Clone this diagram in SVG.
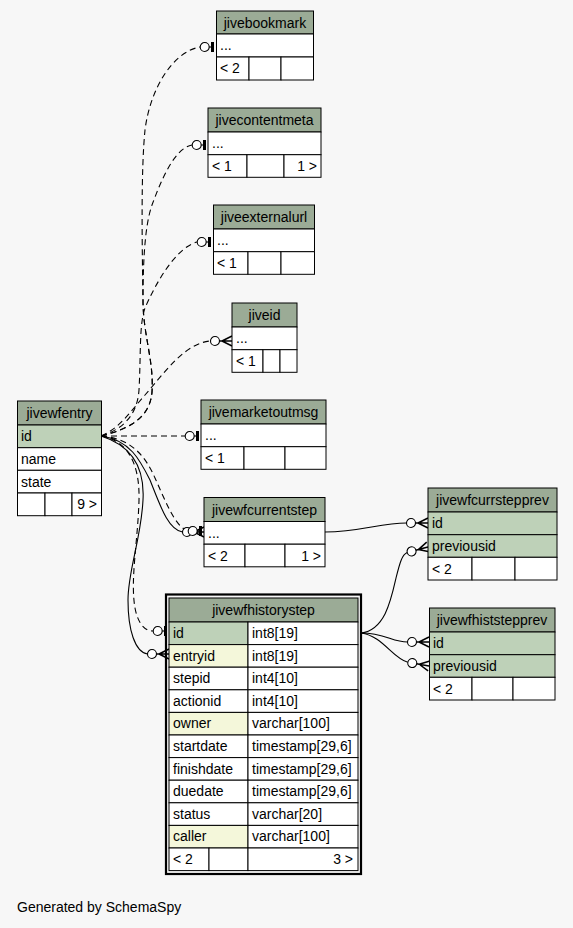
<svg xmlns="http://www.w3.org/2000/svg" xmlns:xlink="http://www.w3.org/1999/xlink" width="573" height="928" viewBox="0 0 573 928">
<defs>
<style>
.t{font-family:"Liberation Sans",Arial,Helvetica,sans-serif;font-size:14px;fill:#000}
.c{text-anchor:middle}
.r{text-anchor:end}
.h{fill:#9bab96;stroke:#000;stroke-width:1}
.w{fill:#fff;stroke:#000;stroke-width:1}
.k{fill:#bed1b8;stroke:#000;stroke-width:1}
.f{fill:#f4f7da;stroke:#000;stroke-width:1}
.e{fill:none;stroke:#000;stroke-width:1.1}
.d{fill:none;stroke:#000;stroke-width:1.1;stroke-dasharray:6,4}
</style>
<g id="teeodot">
<circle cx="-11.3" cy="0" r="4.5" fill="#fff" stroke="#000" stroke-width="1.1"/>
<line x1="-6.8" y1="0" x2="-4" y2="0" stroke="#000" stroke-width="1.1"/>
<rect x="-5" y="-5" width="3" height="10" fill="#000"/>
</g>
<g id="crowodot">
<circle cx="-17" cy="0" r="4.5" fill="#fff" stroke="#000" stroke-width="1.1"/>
<path d="M-12.5,0 L-10,0 M-10,0 L0,-5 M-10,0 L0,0 M-10,0 L0,5" fill="none" stroke="#000" stroke-width="1.5"/>
</g>
</defs>
<rect x="0" y="0" width="573" height="928" fill="#f7f7f7"/>

<g id="connectors">
<path class="d" d="M101,436 C125,430 150,420 152,392 C154,360 143,335 143,300 C142,240 141,170 145,130 C150,90 172,52 200,47"/>
<path class="d" d="M101,436 C125,430 150,420 152,392 C154,360 143,335 143,300 C143,260 145,225 152,205 C162,178 175,148 192,145"/>
<path class="d" d="M101,436 C120,430 137,418 139,390 C141,355 139,325 145,308 C155,285 175,248 197,242"/>
<path class="d" d="M101,436 C120,428 130,412 145,395 C165,372 185,343 210.5,341"/>
<path class="d" d="M101,436 L185,436"/>
<path class="e" d="M101,436 C130,440 140,460 150,480 C160,505 168,530 182.5,532"/>
<path class="d" d="M101,436 C130,438 145,455 155,478 C165,500 175,527 188,531"/>
<path class="d" d="M101,436 C125,440 140,460 139,500 C138,540 130,580 135,608 C138,624 145,631 153,631"/>
<path class="e" d="M101,436 C130,445 145,465 143,500 C141,540 128,570 128,600 C128,630 135,652 147.5,654"/>
<path class="e" d="M325,532 C360,532 380,523 406.5,523"/>
<path class="e" d="M361,633 C385,630 391,600 396,578 C400,562 402,555 407.2,552.6"/>
<path class="e" d="M361,633 C385,633 392,642 407.5,642"/>
<path class="e" d="M361,633 C383,636 392,658 407.8,662.3"/>
<use xlink:href="#teeodot" transform="translate(216,47)"/>
<use xlink:href="#teeodot" transform="translate(208,145)"/>
<use xlink:href="#teeodot" transform="translate(213,242)"/>
<use xlink:href="#crowodot" transform="translate(232,341)"/>
<use xlink:href="#teeodot" transform="translate(201,436)"/>
<use xlink:href="#crowodot" transform="translate(204,532)"/>
<use xlink:href="#teeodot" transform="translate(204,531)"/>
<use xlink:href="#teeodot" transform="translate(169,631)"/>
<use xlink:href="#crowodot" transform="translate(169,654)"/>
<use xlink:href="#crowodot" transform="translate(428,523)"/>
<use xlink:href="#crowodot" transform="translate(428,547) rotate(-15)"/>
<use xlink:href="#crowodot" transform="translate(429,642)"/>
<use xlink:href="#crowodot" transform="translate(429,666) rotate(10)"/>
</g>

<g id="jivebookmark">
<rect class="h" x="216.5" y="11" width="97" height="23"/>
<rect class="w" x="216.5" y="34" width="97" height="23"/>
<rect class="w" x="216.5" y="57" width="32.5" height="23"/>
<rect class="w" x="249" y="57" width="32" height="23"/>
<rect class="w" x="281" y="57" width="32.5" height="23"/>
<text class="t c" x="265" y="28">jivebookmark</text>
<text class="t" x="220" y="50">...</text>
<text class="t" x="220" y="73">&lt; 2</text>
</g>

<g id="jivecontentmeta">
<rect class="h" x="208" y="108" width="113" height="24"/>
<rect class="w" x="208" y="132" width="113" height="22.7"/>
<rect class="w" x="208" y="154.7" width="39" height="22.6"/>
<rect class="w" x="247" y="154.7" width="37" height="22.6"/>
<rect class="w" x="284" y="154.7" width="37" height="22.6"/>
<text class="t c" x="264.5" y="125">jivecontentmeta</text>
<text class="t" x="212" y="148">...</text>
<text class="t" x="212" y="171">&lt; 1</text>
<text class="t r" x="317" y="171">1 &gt;</text>
</g>

<g id="jiveexternalurl">
<rect class="h" x="213.5" y="205" width="101" height="24"/>
<rect class="w" x="213.5" y="229" width="101" height="22.7"/>
<rect class="w" x="213.5" y="251.7" width="34.5" height="22.6"/>
<rect class="w" x="248" y="251.7" width="33" height="22.6"/>
<rect class="w" x="281" y="251.7" width="33.5" height="22.6"/>
<text class="t c" x="264" y="222">jiveexternalurl</text>
<text class="t" x="217" y="245">...</text>
<text class="t" x="217" y="268">&lt; 1</text>
</g>

<g id="jiveid">
<rect class="h" x="232" y="303" width="65" height="24"/>
<rect class="w" x="232" y="327" width="65" height="22.7"/>
<rect class="w" x="232" y="349.7" width="31" height="22.6"/>
<rect class="w" x="263" y="349.7" width="17" height="22.6"/>
<rect class="w" x="280" y="349.7" width="17" height="22.6"/>
<text class="t c" x="264.5" y="320">jiveid</text>
<text class="t" x="236" y="343">...</text>
<text class="t" x="236" y="366">&lt; 1</text>
</g>

<g id="jivemarketoutmsg">
<rect class="h" x="201" y="400" width="125" height="24"/>
<rect class="w" x="201" y="424" width="125" height="22.7"/>
<rect class="w" x="201" y="446.7" width="43" height="22.6"/>
<rect class="w" x="244" y="446.7" width="41" height="22.6"/>
<rect class="w" x="285" y="446.7" width="41" height="22.6"/>
<text class="t c" x="263.5" y="417">jivemarketoutmsg</text>
<text class="t" x="205" y="440">...</text>
<text class="t" x="205" y="463">&lt; 1</text>
</g>

<g id="jivewfcurrentstep">
<rect class="h" x="204" y="497.5" width="121" height="24"/>
<rect class="w" x="204" y="521.5" width="121" height="22.7"/>
<rect class="w" x="204" y="544.2" width="41" height="22.6"/>
<rect class="w" x="245" y="544.2" width="40" height="22.6"/>
<rect class="w" x="285" y="544.2" width="40" height="22.6"/>
<text class="t c" x="264.5" y="514.5">jivewfcurrentstep</text>
<text class="t" x="208" y="537.5">...</text>
<text class="t" x="208" y="560.5">&lt; 2</text>
<text class="t r" x="321" y="560.5">1 &gt;</text>
</g>

<g id="jivewfcurrstepprev">
<rect class="h" x="428" y="488" width="129" height="24"/>
<rect class="k" x="428" y="512" width="129" height="22.7"/>
<rect class="k" x="428" y="534.7" width="129" height="22.6"/>
<rect class="w" x="428" y="557.3" width="44" height="22.7"/>
<rect class="w" x="472" y="557.3" width="43" height="22.7"/>
<rect class="w" x="515" y="557.3" width="42" height="22.7"/>
<text class="t c" x="492.5" y="505">jivewfcurrstepprev</text>
<text class="t" x="432" y="528">id</text>
<text class="t" x="432" y="551">previousid</text>
<text class="t" x="432" y="573.5">&lt; 2</text>
</g>

<g id="jivewfhiststepprev">
<rect class="h" x="429.5" y="608" width="125.5" height="24"/>
<rect class="k" x="429.5" y="632" width="125.5" height="22.7"/>
<rect class="k" x="429.5" y="654.7" width="125.5" height="22.6"/>
<rect class="w" x="429.5" y="677.3" width="42.5" height="22.7"/>
<rect class="w" x="472" y="677.3" width="41" height="22.7"/>
<rect class="w" x="513" y="677.3" width="42" height="22.7"/>
<text class="t c" x="492" y="625">jivewfhiststepprev</text>
<text class="t" x="433" y="648">id</text>
<text class="t" x="433" y="671">previousid</text>
<text class="t" x="433" y="693.5">&lt; 2</text>
</g>

<g id="jivewfentry">
<rect class="h" x="17.5" y="401" width="84" height="24"/>
<rect class="k" x="17.5" y="425" width="84" height="22.7"/>
<rect class="w" x="17.5" y="447.7" width="84" height="22.6"/>
<rect class="w" x="17.5" y="470.3" width="84" height="22.7"/>
<rect class="w" x="17.5" y="493" width="27.5" height="22.7"/>
<rect class="w" x="45" y="493" width="27" height="22.7"/>
<rect class="w" x="72" y="493" width="29.5" height="22.7"/>
<text class="t c" x="59.5" y="418">jivewfentry</text>
<text class="t" x="21" y="441">id</text>
<text class="t" x="21" y="464">name</text>
<text class="t" x="21" y="486.5">state</text>
<text class="t r" x="97" y="509">9 &gt;</text>
</g>

<g id="jivewfhistorystep">
<rect x="166" y="594.5" width="195" height="279.5" fill="none" stroke="#000" stroke-width="2.2"/>
<rect class="h" x="169" y="598" width="189" height="24"/>
<rect class="k" x="169" y="622" width="79" height="22.6"/>
<rect class="w" x="248" y="622" width="110" height="22.6"/>
<rect class="f" x="169" y="644.6" width="79" height="22.6"/>
<rect class="w" x="248" y="644.6" width="110" height="22.6"/>
<rect class="w" x="169" y="667.2" width="79" height="22.6"/>
<rect class="w" x="248" y="667.2" width="110" height="22.6"/>
<rect class="w" x="169" y="689.8" width="79" height="22.6"/>
<rect class="w" x="248" y="689.8" width="110" height="22.6"/>
<rect class="f" x="169" y="712.4" width="79" height="22.6"/>
<rect class="w" x="248" y="712.4" width="110" height="22.6"/>
<rect class="w" x="169" y="735" width="79" height="22.6"/>
<rect class="w" x="248" y="735" width="110" height="22.6"/>
<rect class="w" x="169" y="757.6" width="79" height="22.6"/>
<rect class="w" x="248" y="757.6" width="110" height="22.6"/>
<rect class="w" x="169" y="780.2" width="79" height="22.6"/>
<rect class="w" x="248" y="780.2" width="110" height="22.6"/>
<rect class="w" x="169" y="802.8" width="79" height="22.6"/>
<rect class="w" x="248" y="802.8" width="110" height="22.6"/>
<rect class="f" x="169" y="825.4" width="79" height="22.6"/>
<rect class="w" x="248" y="825.4" width="110" height="22.6"/>
<rect class="w" x="169" y="848" width="40" height="22.6"/>
<rect class="w" x="209" y="848" width="39" height="22.6"/>
<rect class="w" x="248" y="848" width="110" height="22.6"/>
<text class="t c" x="263.5" y="615">jivewfhistorystep</text>
<text class="t" x="173" y="638">id</text>
<text class="t" x="252" y="638">int8[19]</text>
<text class="t" x="173" y="660.6">entryid</text>
<text class="t" x="252" y="660.6">int8[19]</text>
<text class="t" x="173" y="683.2">stepid</text>
<text class="t" x="252" y="683.2">int4[10]</text>
<text class="t" x="173" y="705.8">actionid</text>
<text class="t" x="252" y="705.8">int4[10]</text>
<text class="t" x="173" y="728.4">owner</text>
<text class="t" x="252" y="728.4">varchar[100]</text>
<text class="t" x="173" y="751">startdate</text>
<text class="t" x="252" y="751">timestamp[29,6]</text>
<text class="t" x="173" y="773.6">finishdate</text>
<text class="t" x="252" y="773.6">timestamp[29,6]</text>
<text class="t" x="173" y="796.2">duedate</text>
<text class="t" x="252" y="796.2">timestamp[29,6]</text>
<text class="t" x="173" y="818.8">status</text>
<text class="t" x="252" y="818.8">varchar[20]</text>
<text class="t" x="173" y="841.4">caller</text>
<text class="t" x="252" y="841.4">varchar[100]</text>
<text class="t" x="173" y="864">&lt; 2</text>
<text class="t r" x="353" y="864">3 &gt;</text>
</g>

<text class="t" x="17" y="912">Generated by SchemaSpy</text>
</svg>
